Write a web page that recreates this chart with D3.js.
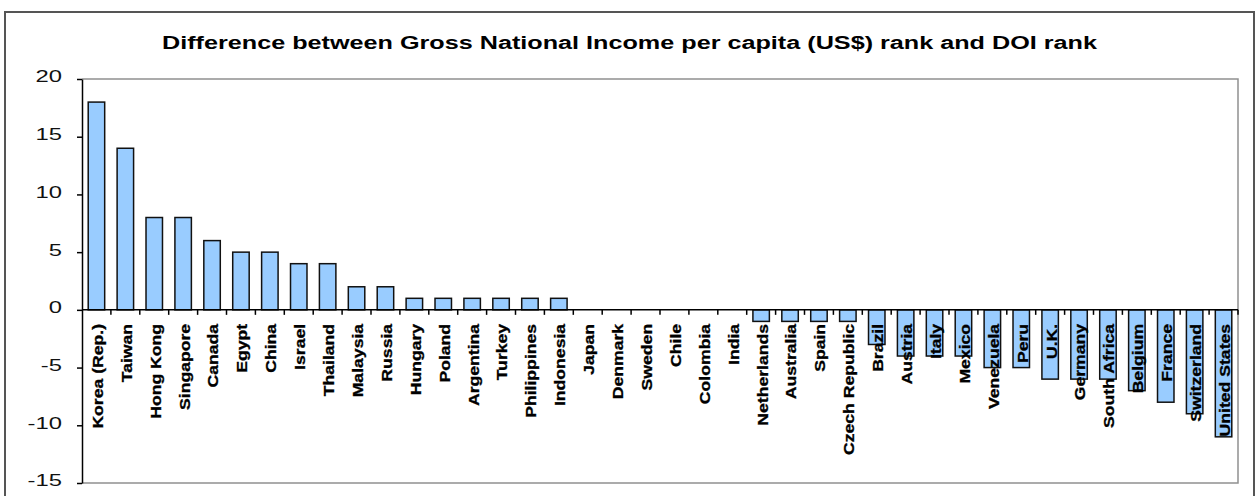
<!DOCTYPE html>
<html>
<head>
<meta charset="utf-8">
<script src="https://cdn.jsdelivr.net/npm/d3@7"></script>
<style>
  body { margin: 0; background: #fff; }
  text { font-family: Arial, "Liberation Sans", sans-serif; }
</style>
</head>
<body>
<div id="chart"></div>
<script>
var countries = ["Korea (Rep.)", "Taiwan", "Hong Kong", "Singapore", "Canada", "Egypt", "China", "Israel",
  "Thailand", "Malaysia", "Russia", "Hungary", "Poland", "Argentina", "Turkey", "Philippines", "Indonesia",
  "Japan", "Denmark", "Sweden", "Chile", "Colombia", "India", "Netherlands", "Australia", "Spain",
  "Czech Republic", "Brazil", "Austria", "Italy", "Mexico", "Venezuela", "Peru", "U.K.", "Germany",
  "South Africa", "Belgium", "France", "Switzerland", "United States"];
var rankDiff = [18, 14, 8, 8, 6, 5, 5, 4, 4, 2, 2, 1, 1, 1, 1, 1, 1,
  0, 0, 0, 0, 0, 0, -1, -1, -1, -1, -3, -4, -4, -4, -5, -5, -6, -6, -6, -7, -8, -9, -11];
var yTicks = [-15, -10, -5, 0, 5, 10, 15, 20];
var title = "Difference between Gross National Income per capita (US$) rank and DOI rank";

var W = 1256, H = 496;
var plot = { left: 82, right: 1238, top: 79, bottom: 483 };

var svg = d3.select("#chart").append("svg")
  .attr("width", W)
  .attr("height", H);

// outer chart frame
svg.append("rect")
  .attr("x", 5).attr("y", 12)
  .attr("width", 1249).attr("height", 500)
  .attr("fill", "none")
  .attr("stroke", "#555")
  .attr("stroke-width", 2);

// title
svg.append("text")
  .attr("x", 629.5)
  .attr("y", 49)
  .attr("text-anchor", "middle")
  .attr("font-size", "18px")
  .attr("font-weight", "bold")
  .attr("textLength", 935)
  .attr("lengthAdjust", "spacingAndGlyphs")
  .attr("fill", "#000")
  .text(title);

var xScale = d3.scaleBand()
  .domain(countries)
  .range([plot.left, plot.right])
  .paddingInner(0.43)
  .paddingOuter(0.215);

var yScale = d3.scaleLinear()
  .domain([-15, 20])
  .range([plot.bottom, plot.top]);

// plot area border (grey)
svg.append("path")
  .attr("d", "M" + plot.left + "," + plot.top + "H" + plot.right + "V" + plot.bottom + "H" + plot.left)
  .attr("fill", "none")
  .attr("stroke", "#909090")
  .attr("stroke-width", 1.5);

// bars
svg.selectAll("rect.bar")
  .data(countries)
  .enter()
  .append("rect")
  .attr("class", "bar")
  .attr("x", function(d) { return xScale(d); })
  .attr("y", function(d, i) { return yScale(Math.max(0, rankDiff[i])); })
  .attr("width", xScale.bandwidth())
  .attr("height", function(d, i) { return Math.abs(yScale(rankDiff[i]) - yScale(0)); })
  .attr("fill", "#99CCFF")
  .attr("stroke", "#111")
  .attr("stroke-width", 1.5);

// Y axis
var yAxis = d3.axisLeft(yScale)
  .tickValues(yTicks)
  .tickSize(5)
  .tickSizeOuter(0)
  .tickFormat(function(d) { return String(d); });

var gy = svg.append("g")
  .attr("transform", "translate(" + plot.left + ",0)")
  .call(yAxis);
gy.select(".domain").attr("stroke", "#000").attr("stroke-width", 1.5);
gy.selectAll(".tick line").attr("stroke", "#000").attr("stroke-width", 1.5);
gy.selectAll(".tick text")
  .attr("x", 0)
  .attr("dy", "0.35em")
  .attr("transform", "translate(-20,-3) scale(1.4,1)")
  .attr("font-size", "17px")
  .attr("fill", "#111");

// X axis line at zero
var y0 = yScale(0);
svg.append("line")
  .attr("x1", plot.left).attr("x2", plot.right)
  .attr("y1", y0).attr("y2", y0)
  .attr("stroke", "#000")
  .attr("stroke-width", 1.5);

// category tick marks between bands
var step = xScale.step();
svg.selectAll("line.xtick")
  .data(countries)
  .enter()
  .append("line")
  .attr("class", "xtick")
  .attr("x1", function(d) { return xScale(d) + xScale.bandwidth() / 2 + step / 2; })
  .attr("x2", function(d) { return xScale(d) + xScale.bandwidth() / 2 + step / 2; })
  .attr("y1", y0).attr("y2", y0 + 5)
  .attr("stroke", "#000")
  .attr("stroke-width", 1.5);

// category labels (rotated, next to axis)
svg.selectAll("text.xlabel")
  .data(countries)
  .enter()
  .append("text")
  .attr("class", "xlabel")
  .attr("transform", function(d) {
    var cx = xScale(d) + xScale.bandwidth() / 2 + 1.5;
    return "translate(" + cx + "," + (y0 + 14) + ") rotate(-90) scale(1.26,1)";
  })
  .attr("text-anchor", "end")
  .attr("dy", "0.35em")
  .attr("font-size", "14px")
  .attr("font-weight", "bold")
  .attr("fill", "#000")
  .attr("stroke", "#000")
  .attr("stroke-width", 0.3)
  .text(function(d) { return d; });
</script>
</body>
</html>
